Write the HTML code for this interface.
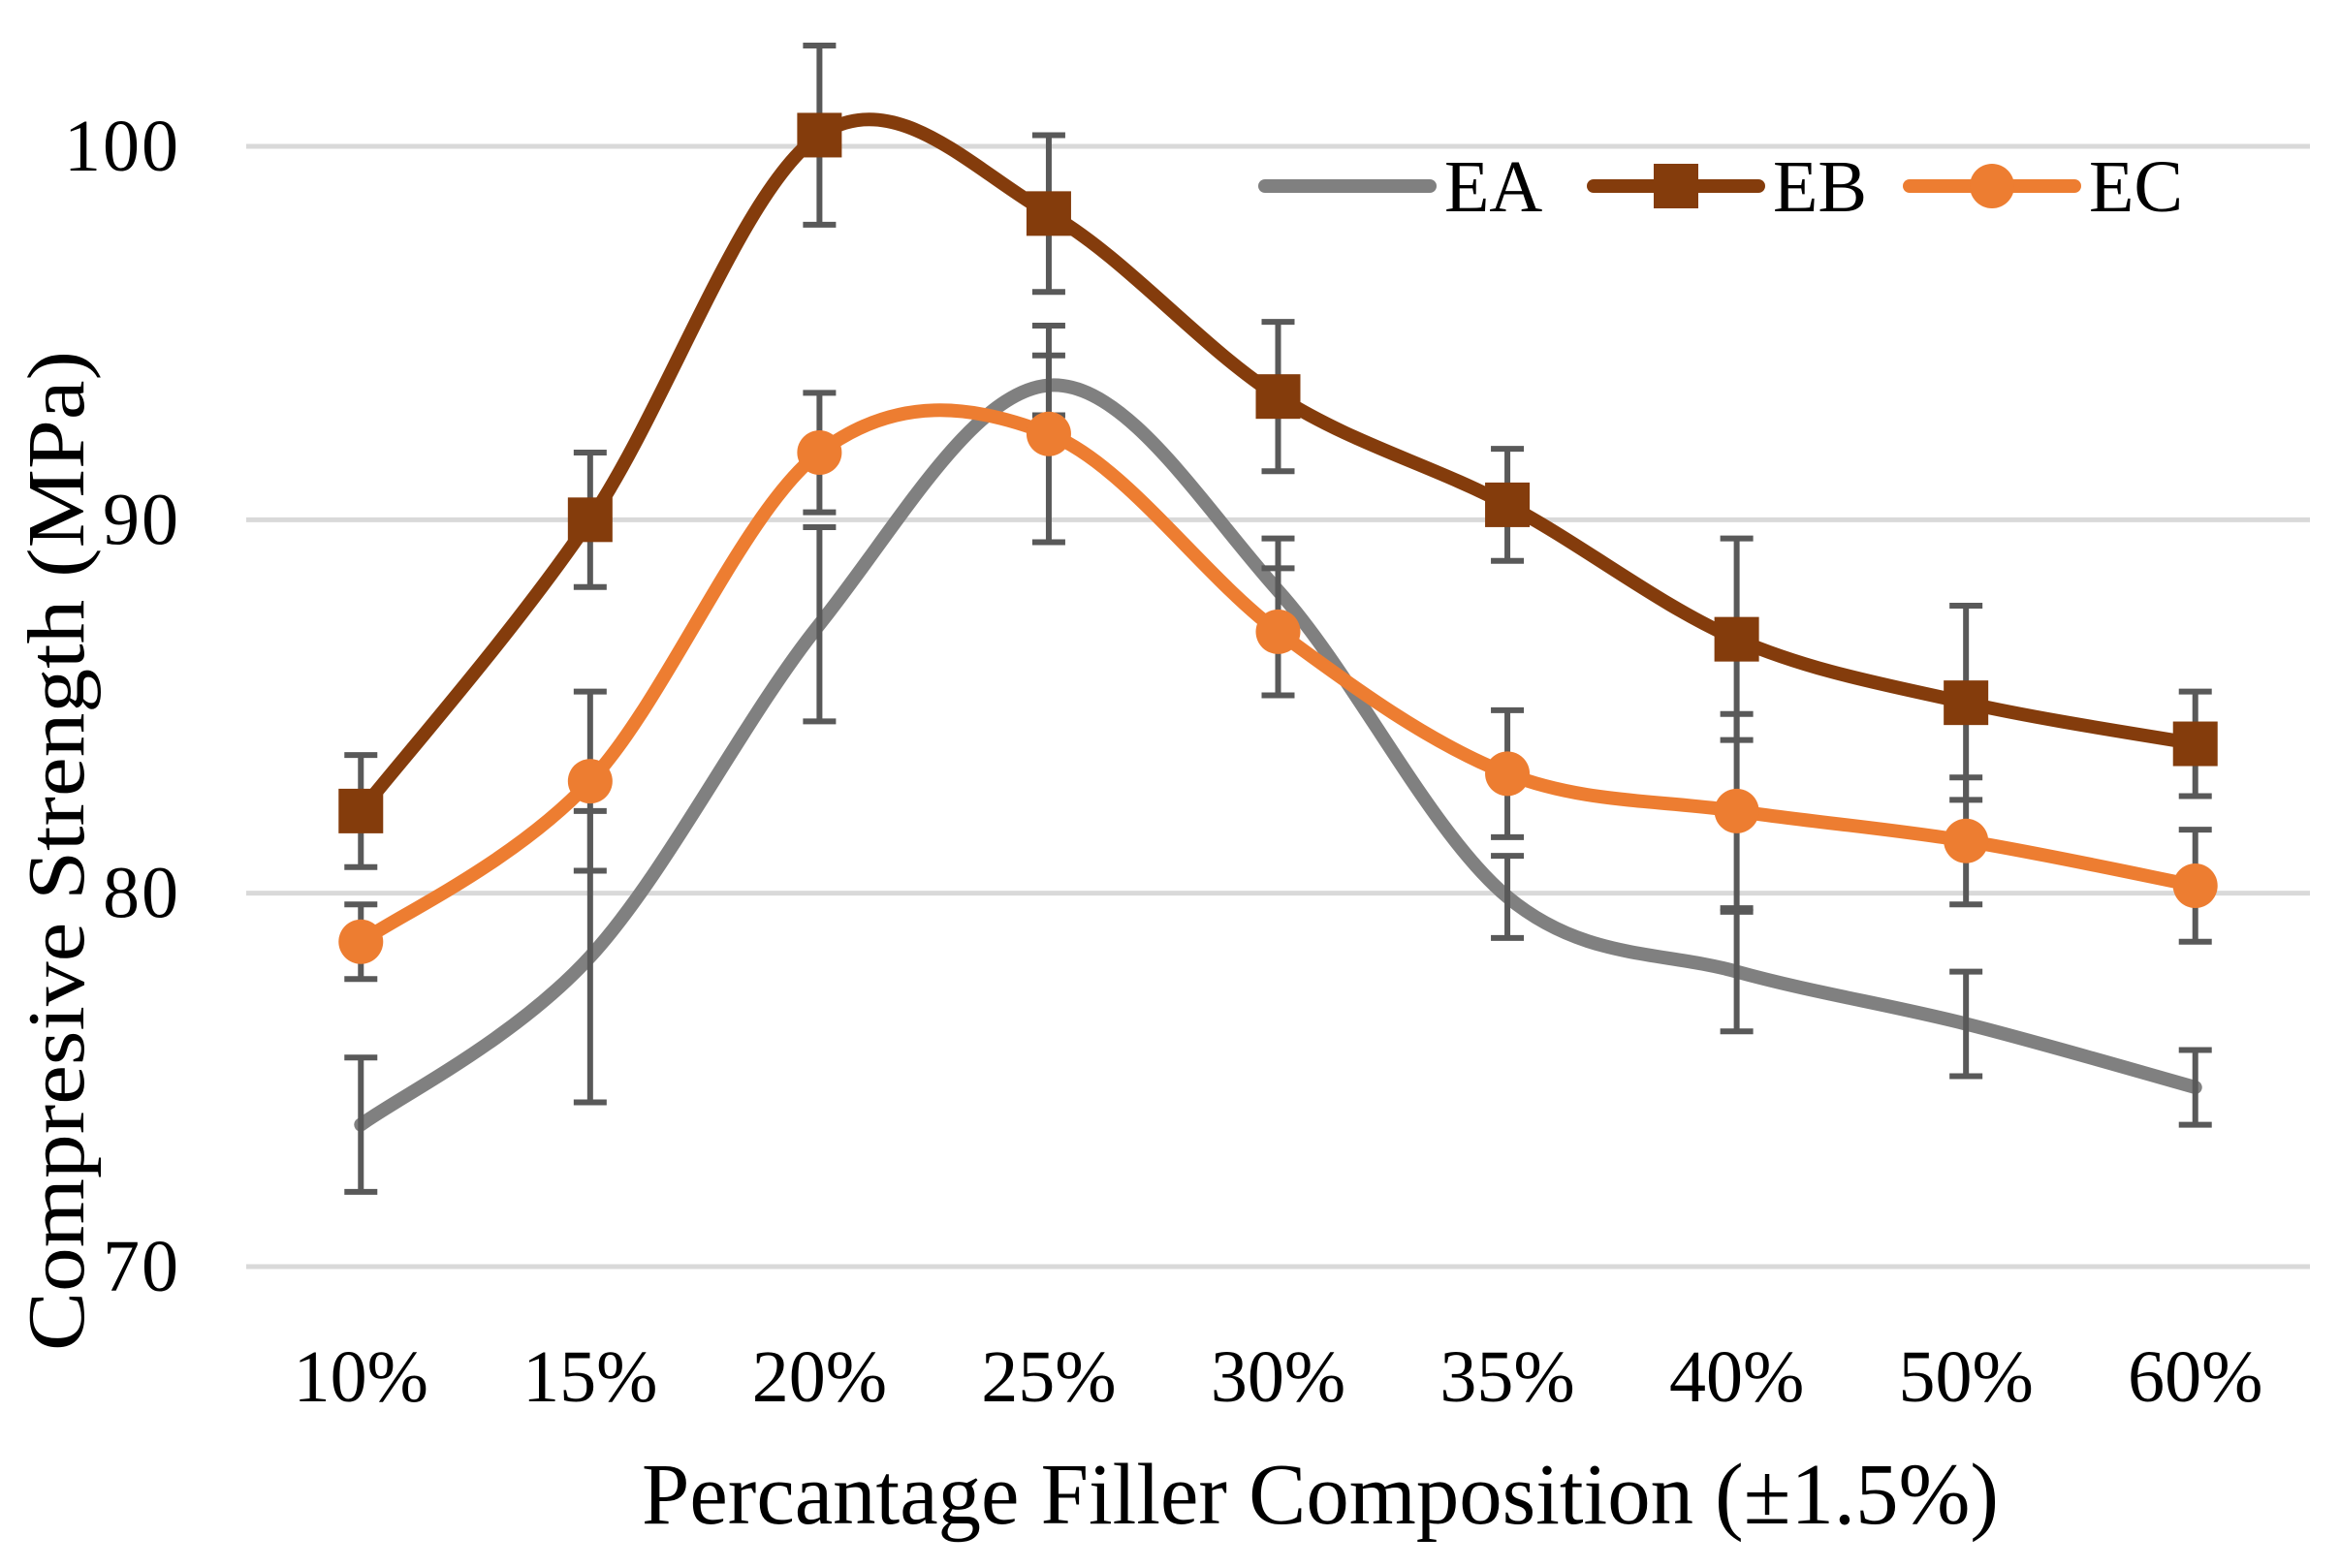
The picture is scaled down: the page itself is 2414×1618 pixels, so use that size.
<!DOCTYPE html>
<html><head><meta charset="utf-8"><style>
html,body{margin:0;padding:0;background:#fff;}
svg{display:block;font-family:"Liberation Serif",serif;}
</style></head><body>
<svg id="chart" width="2414" height="1618"></svg>
<script>
const categories=["10%","15%","20%","25%","30%","35%","40%","50%","60%"];
const eaValues=[73.8,78.3,87.2,93.6,88.1,79.9,77.9,76.5,74.8];
const eaErrors=[1.8,3.9,2.6,0.8,1.4,1.1,1.6,1.4,1.0];
const ebValues=[82.2,90.0,100.3,98.2,93.3,90.4,86.8,85.1,84.0];
const ebErrors=[1.5,1.8,2.4,2.1,2.0,1.5,2.7,2.6,1.4];
const ecValues=[78.7,83.0,91.8,92.3,87.0,83.2,82.2,81.4,80.2];
const ecErrors=[1.0,2.4,1.6,2.9,1.7,1.7,2.6,1.7,1.5];
const yTicks=[70,80,90,100];
const NS="http://www.w3.org/2000/svg";
const svg=document.getElementById('chart');
const L=254,R=2383,Y0=70,Y1=100,PY0=1307,PY1=151;
const bw=(R-L)/categories.length;
function xs(i){return L+bw*(i+0.5);}
function ys(v){return PY0+(v-Y0)*(PY1-PY0)/(Y1-Y0);}
function mk(tag,attrs){const e=document.createElementNS(NS,tag);for(const k in attrs)e.setAttribute(k,attrs[k]);svg.appendChild(e);return e;}
yTicks.forEach(t=>{
  const g=mk('line',{x1:L,x2:R,y1:ys(t),y2:ys(t),stroke:'#d9d9d9','stroke-width':5});
  
  
  const tx=mk('text',{x:186,y:ys(t)+25,'text-anchor':'end','font-size':76,fill:'#000','letter-spacing':2});
  tx.textContent=t;
  
  
});
categories.forEach((c,i)=>{
  const tx=mk('text',{x:xs(i),y:1446,'text-anchor':'middle','font-size':76,fill:'#000'});
  tx.textContent=c;
  
  
});
const xt=mk('text',{x:1362,y:1572,'text-anchor':'middle','font-size':90,fill:'#000',textLength:1400,lengthAdjust:'spacingAndGlyphs'});
xt.textContent='Percantage Filler Composition (±1.5%)';


const yt=mk('text',{x:0,y:0,'text-anchor':'middle','font-size':84,fill:'#000',textLength:1032,lengthAdjust:'spacingAndGlyphs',transform:'translate(86,878) rotate(-90)'});
yt.textContent='Compresive Strength (MPa)';


function smooth(pts){
  let d='M'+pts[0][0]+','+pts[0][1];
  for(let i=0;i<pts.length-1;i++){
    const p0=pts[Math.max(i-1,0)],p1=pts[i],p2=pts[i+1],p3=pts[Math.min(i+2,pts.length-1)];
    const t=6;
    d+=' C'+(p1[0]+(p2[0]-p0[0])/t)+','+(p1[1]+(p2[1]-p0[1])/t)+' '+(p2[0]-(p3[0]-p1[0])/t)+','+(p2[1]-(p3[1]-p1[1])/t)+' '+p2[0]+','+p2[1];
  }
  return d;
}
const series=[
 {name:'ea',vals:eaValues,errs:eaErrors,color:'#808080',marker:'none'},
 {name:'eb',vals:ebValues,errs:ebErrors,color:'#843C0C',marker:'square'},
 {name:'ec',vals:ecValues,errs:ecErrors,color:'#ED7D31',marker:'circle'}];
series.forEach(s=>{
  const pts=s.vals.map((v,i)=>[xs(i),ys(v)]);
  const p=mk('path',{d:smooth(pts),fill:'none',stroke:s.color,'stroke-width':14,'stroke-linecap':'round'});
  
  
  s.vals.forEach((v,i)=>{
    const x=xs(i),a=ys(v+s.errs[i]),b=ys(v-s.errs[i]);
    const e=mk('path',{d:`M${x},${a}V${b}M${x-17},${a}H${x+17}M${x-17},${b}H${x+17}`,stroke:'#595959','stroke-width':6,fill:'none'});
    
    
  });
  s.vals.forEach((v,i)=>{
    let m=null;
    if(s.marker==='square')m=mk('rect',{x:xs(i)-23,y:ys(v)-23,width:46,height:46,fill:s.color});
    if(s.marker==='circle')m=mk('circle',{cx:xs(i),cy:ys(v),r:23,fill:s.color});
    if(m){
    }
  });
});
const leg=[['EA',1305,'#808080','none'],['EB',1644,'#843C0C','square'],['EC',1970,'#ED7D31','circle']];
leg.forEach(l=>{
  const ln=mk('line',{x1:l[1],x2:l[1]+170,y1:192,y2:192,stroke:l[2],'stroke-width':14,'stroke-linecap':'round'});
  
  
  if(l[3]==='square'){const r=mk('rect',{x:l[1]+62,y:169,width:46,height:46,fill:l[2]});}
  if(l[3]==='circle'){const c=mk('circle',{cx:l[1]+85,cy:192,r:23,fill:l[2]});}
  const t=mk('text',{x:l[1]+185,y:218,'font-size':76,fill:'#000'});
  t.textContent=l[0];
  
  
});
</script>
</body></html>
